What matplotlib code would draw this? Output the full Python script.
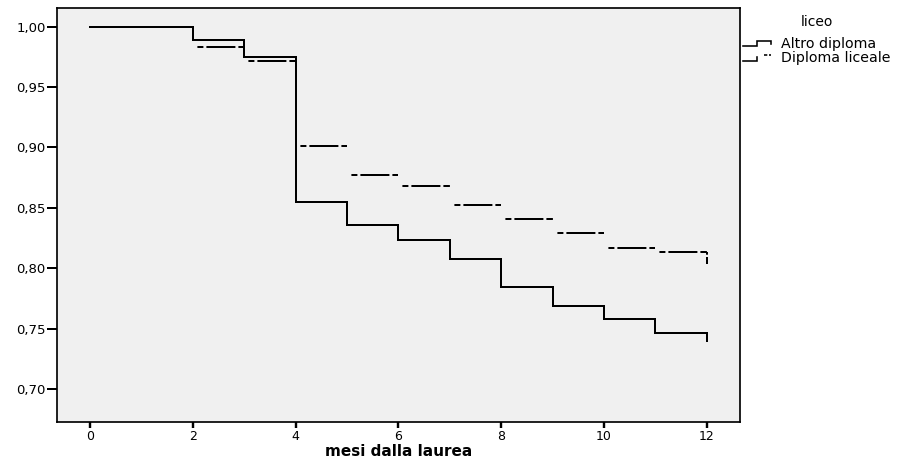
import matplotlib
matplotlib.use("Agg")
import matplotlib.pyplot as plt
from matplotlib.lines import Line2D
from matplotlib.legend_handler import HandlerBase

# ---- data ----
months = [0, 2, 3, 4, 5, 6, 7, 8, 9, 10, 11, 12]
altro_diploma = [1.000, 0.989, 0.975, 0.855, 0.8355, 0.8236, 0.8075,
                 0.7842, 0.7684, 0.7579, 0.746, 0.7394]
diploma_liceale = [1.000, 0.9832, 0.9715, 0.9009, 0.877, 0.8678, 0.852,
                   0.8406, 0.829, 0.817, 0.8137, 0.8035]
series_labels = ["Altro diploma", "Diploma liceale"]
legend_title = "liceo"
x_label = "mesi dalla laurea"
x_ticks = [0, 2, 4, 6, 8, 10, 12]
y_ticks = [0.70, 0.75, 0.80, 0.85, 0.90, 0.95, 1.00]

plt.rcParams["font.family"] = ["DejaVu Sans"]
plt.rcParams["lines.scale_dashes"] = False

PX = 0.72  # points per pixel at dpi 100

fig = plt.figure(figsize=(9.0, 4.61), dpi=100, facecolor="white")
ax = fig.add_axes([56.5 / 900, 38.6 / 461, 683.5 / 900, 414.1 / 461])
ax.set_facecolor("#f0f0f0")

lw = 2.0 * PX
# solid curve
ax.step(months, altro_diploma, where="post", color="black", lw=lw,
        solid_joinstyle="miter", zorder=3)

# dashed curve: pattern restarts on every horizontal segment
seg_pattern = (48 * PX, (6 * PX, 3 * PX, 29 * PX, 3 * PX, 6.5 * PX, 4.9 * PX))
ax.hlines(diploma_liceale[:-1], months[:-1], months[1:], colors="black",
          linewidths=lw, linestyles=[seg_pattern], zorder=4)
# final drop at the last month
ax.vlines(months[-1], diploma_liceale[-1], diploma_liceale[-2], colors="black",
          linewidths=lw, linestyles=[(0, (7 * PX, 2.3 * PX, 6 * PX, 2 * PX))],
          zorder=4)

ax.set_xlim(-0.657, 12.65)
ax.set_ylim(0.6723, 1.0151)
ax.set_xticks(x_ticks)
ax.set_xticklabels([str(t) for t in x_ticks])
ax.set_yticks(y_ticks)
ax.set_yticklabels([f"{v:.2f}".replace(".", ",") for v in y_ticks])

ax.tick_params(axis="y", length=10 * PX, width=2 * PX, pad=0.5,
               labelsize=9.5, direction="out")
ax.tick_params(axis="x", length=6 * PX, width=2.4 * PX, pad=1.5,
               labelsize=9, direction="out")
for s in ax.spines.values():
    s.set_linewidth(1.7 * PX)
    s.set_color("black")

ax.set_xlabel(x_label, fontsize=11, fontweight="bold", labelpad=0.2)


class StepHandler(HandlerBase):
    def __init__(self, dashed=False):
        super().__init__()
        self.dashed = dashed

    def create_artists(self, legend, orig_handle, xdescent, ydescent,
                       width, height, fontsize, trans):
        x0 = -xdescent
        low = -ydescent + 0.2 * height
        high = -ydescent + 0.75 * height
        xm = x0 + 0.5 * width
        x1 = x0 + width
        arts = []
        if not self.dashed:
            l = Line2D([x0, xm, xm, x1, x1], [low, low, high, high, high - 0.3 * height],
                       color="black", lw=1.6 * PX, solid_joinstyle="miter")
            arts.append(l)
        else:
            l1 = Line2D([x0, xm, xm], [low, low, high - 0.2 * height], color="black",
                        lw=1.6 * PX, solid_joinstyle="miter")
            l2 = Line2D([xm + 0.25 * width, x1], [high, high], color="black",
                        lw=1.6 * PX, linestyle=(0, (3.3 * PX, 1.7 * PX)))
            arts.extend([l1, l2])
        for a in arts:
            a.set_transform(trans)
        return arts


h1 = Line2D([], [], color="black")
h2 = Line2D([], [], color="black", linestyle="--")
leg = fig.legend([h1, h2], series_labels,
                 handler_map={h1: StepHandler(False), h2: StepHandler(True)},
                 loc="upper left", bbox_to_anchor=(743 / 900, (461 - 15.5) / 461),
                 bbox_transform=fig.transFigure, frameon=False,
                 title=legend_title, title_fontsize=10, fontsize=10.2,
                 borderpad=0, borderaxespad=0, handlelength=2.0,
                 handletextpad=0.7, labelspacing=0.02, handleheight=0.8)
leg._legend_box.sep = 5.5

fig.savefig("out.png", dpi=100, facecolor="white")
